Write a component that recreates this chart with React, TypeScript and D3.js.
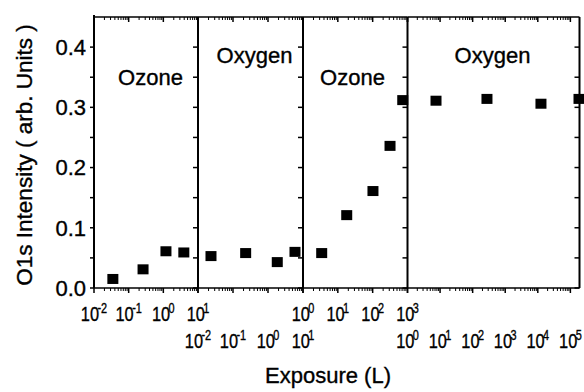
import React from "react";
import * as d3 from "d3";

// Gas used in each exposure panel
const panelGases = ["Ozone", "Oxygen", "Ozone", "Oxygen"];
// Exponent range (10^lo .. 10^hi) of each panel's log axis
const panelExpLo = [-2, -2, 0, 0];
const panelExpHi = [1, 1, 3, 5.28];
// Which row the panel's tick labels sit on
const panelLabelRow = [0, 1, 0, 1];

// Exposure (L) and O1s intensity per panel
const exposure1 = [0.035, 0.26, 1.19, 3.9];
const intensity1 = [0.015, 0.031, 0.061, 0.059];
const exposure2 = [0.0235, 0.23, 1.84, 5.9];
const intensity2 = [0.053, 0.058, 0.043, 0.06];
const exposure3 = [3.44, 18, 102, 315, 730];
const intensity3 = [0.058, 0.121, 0.161, 0.236, 0.312];
const exposure4 = [7.5, 275, 12500, 184000];
const intensity4 = [0.311, 0.314, 0.306, 0.314];

const exposures = [exposure1, exposure2, exposure3, exposure4];
const intensities = [intensity1, intensity2, intensity3, intensity4];

const yMajorTicks = [0, 0.1, 0.2, 0.3, 0.4];
const yMinorTicks = [0.05, 0.15, 0.25, 0.35];

const W = 584;
const H = 392;
// x pixel edges of the four panels
const panelEdges = [94, 198, 303, 407.5, 579.5];
// gas label placement
const gasLabelX = [150.5, 254.5, 352.5, 492.5];
const gasLabelY = [85, 63, 85, 63];
const top = 17;
const bottom = 288;
const FONT = "'Liberation Sans', Arial, Helvetica, sans-serif";
// slightly heavier glyphs for all text
const textWeight = { stroke: "#000", strokeWidth: 0.35 };

export default function App() {
  const y = d3.scaleLinear().domain([0, 0.45]).range([bottom, top]);
  const left = panelEdges[0];

  const panels = panelGases.map((gas, i) => {
    const lo = panelExpLo[i];
    const hi = panelExpHi[i];
    const x0 = panelEdges[i];
    const x1 = panelEdges[i + 1];
    const x = d3.scaleLog().domain([10 ** lo, 10 ** hi]).range([x0, x1]);
    const majors = d3.range(Math.ceil(lo), Math.floor(hi) + 1).map((e) => 10 ** e);
    const minors: number[] = [];
    for (let e = Math.floor(lo); e < Math.ceil(hi); e++) {
      for (let m = 2; m <= 9; m++) {
        const v = m * 10 ** e;
        if (v > 10 ** lo && v < 10 ** hi) minors.push(v);
      }
    }
    return { gas, i, lo, hi, x0, x1, x, majors, minors };
  });

  const sqW = 11;
  const sqH = 10;

  return (
    <svg width={W} height={H} style={{ display: "block", position: "absolute", left: 0, top: 0 }}
      fontFamily={FONT}>
      <rect width={W} height={H} fill="#fff" />
      {panels.map((p) => (
        <g key={p.i} stroke="#000" strokeWidth={1.5}>
          {/* frame lines */}
          <line x1={p.x0} x2={p.x1} y1={top} y2={top} />
          <line x1={p.x0} x2={p.x1} y1={bottom} y2={bottom} />
          <line x1={p.x1} x2={p.x1} y1={top} y2={bottom} strokeWidth={2} />
          {/* log ticks, bottom (outward) and top (inward) */}
          {p.majors.map((v) => (
            <g key={"M" + v}>
              <line x1={p.x(v)} x2={p.x(v)} y1={bottom} y2={bottom + 5} />
              <line x1={p.x(v)} x2={p.x(v)} y1={top} y2={top + 5} />
            </g>
          ))}
          {p.minors.map((v) => (
            <g key={"m" + v} strokeWidth={1}>
              <line x1={p.x(v)} x2={p.x(v)} y1={bottom} y2={bottom + 3} />
              <line x1={p.x(v)} x2={p.x(v)} y1={top} y2={top + 3} />
            </g>
          ))}
          {/* y ticks on the panel's right edge, pointing inward */}
          {yMajorTicks.concat(yMinorTicks).map((v) => (
            <line key={"y" + v} x1={p.x1 - 5} x2={p.x1} y1={y(v)} y2={y(v)} />
          ))}
        </g>
      ))}

      {/* left axis */}
      <g stroke="#000" strokeWidth={1.5}>
        <line x1={left} x2={left} y1={top - 2} y2={bottom} strokeWidth={2} />
        {yMajorTicks.concat(yMinorTicks).map((v) => (
          <line key={v} x1={left - 4} x2={left} y1={y(v)} y2={y(v)} />
        ))}
      </g>

      <g fill="#000" {...textWeight}>
        {yMajorTicks.map((v) => (
          <text key={v} x={86} y={y(v)} dy="0.36em" textAnchor="end" fontSize={22}>
            {d3.format(".1f")(v)}
          </text>
        ))}

        {/* x tick labels */}
        {panels.map((p) =>
          p.majors.map((v, k) => (
            <text key={p.i + "-" + k}
              transform={`translate(${p.x(v)},${321 + panelLabelRow[p.i] * 27}) scale(0.78,1)`}
              textAnchor="middle" fontSize={21}>
              10
              <tspan dy={-8.5} dx={-2} fontSize={14}>{String(Math.round(Math.log10(v)))}</tspan>
            </text>
          ))
        )}

        {/* gas labels */}
        {panels.map((p) => (
          <text key={"g" + p.i} x={gasLabelX[p.i]} y={gasLabelY[p.i]} textAnchor="middle" fontSize={22}>
            {p.gas}
          </text>
        ))}

        {/* axis titles */}
        <text x={328} y={383} textAnchor="middle" fontSize={22}>Exposure (L)</text>
        <text transform={`translate(32,155) rotate(-90)`} textAnchor="middle" fontSize={22.5}>
          O1s Intensity ( arb. Units )
        </text>
      </g>

      {/* data markers */}
      {panels.map((p) =>
        exposures[p.i].map((e, k) => (
          <rect key={p.i + "d" + k} x={p.x(e) - sqW / 2} y={y(intensities[p.i][k]) - sqH / 2}
            width={sqW} height={sqH} fill="#000" />
        ))
      )}
    </svg>
  );
}
